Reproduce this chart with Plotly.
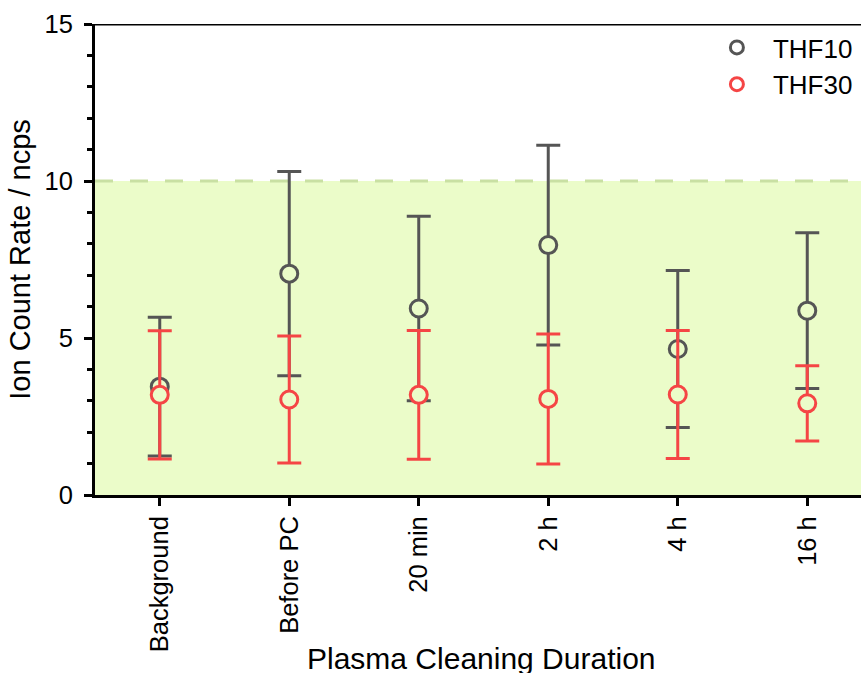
import plotly.graph_objects as go

# Measurement categories and ion count rates (mean ± error), in ncps
categories = ["Background", "Before PC", "20 min", "2 h", "4 h", "16 h"]
thf10_mean = [3.45, 7.05, 5.94, 7.96, 4.65, 5.87]
thf10_err = [2.21, 3.25, 2.94, 3.18, 2.50, 2.48]
thf30_mean = [3.19, 3.04, 3.19, 3.06, 3.20, 2.92]
thf30_err = [2.04, 2.02, 2.05, 2.07, 2.04, 1.20]
y_ticks = [0, 5, 10, 15]
limit_value = 10

GRAY = "#555555"
RED = "#f54545"
ZONE = "#ebfcc9"
FONT = "Liberation Sans, Arial, sans-serif"

fig = go.Figure()

for name, mean, err, color in [
    ("THF10", thf10_mean, thf10_err, GRAY),
    ("THF30", thf30_mean, thf30_err, RED),
]:
    fig.add_trace(go.Scatter(
        x=categories, y=mean, mode="markers", name=name, showlegend=False,
        marker=dict(symbol="circle", size=17, color=ZONE,
                    line=dict(color=color, width=3)),
        error_y=dict(type="data", array=err, visible=True,
                     color=color, thickness=3, width=12),
    ))
    # legend entry (hollow marker on white)
    fig.add_trace(go.Scatter(
        x=[None], y=[None], mode="markers", name=name,
        marker=dict(symbol="circle", size=13, color="white",
                    line=dict(color=color, width=3)),
    ))

# shaded zone below the limit, with dashed limit line
fig.add_shape(type="rect", xref="paper", x0=0, x1=1, yref="y", y0=0, y1=limit_value,
              fillcolor=ZONE, line=dict(width=0), layer="below")
fig.add_shape(type="line", xref="paper", x0=0, x1=1, yref="y",
              y0=limit_value, y1=limit_value,
              line=dict(color="#c9e0a3", width=3, dash="18px,17px"), layer="below")
# top frame line
fig.add_shape(type="line", xref="paper", x0=0, x1=1, yref="y", y0=15, y1=15,
              line=dict(color="black", width=3))

fig.add_annotation(text="Plasma Cleaning Duration", xref="paper", yref="paper",
                   x=0.505, y=-0.348, xanchor="center", yanchor="middle",
                   showarrow=False, font=dict(family=FONT, size=30, color="black"))

fig.update_layout(
    width=861, height=673,
    margin=dict(l=95, r=0, t=24, b=178, autoexpand=False),
    paper_bgcolor="white", plot_bgcolor="white",
    font=dict(family=FONT, color="black"),
    legend=dict(x=0.791, y=1.0, xanchor="left", yanchor="top",
                bgcolor="rgba(0,0,0,0)", font=dict(family=FONT, size=26),
                itemwidth=62, tracegroupgap=0),
    xaxis=dict(
        type="category", range=[-0.5, 5.415],
        showline=True, linecolor="black", linewidth=3,
        ticks="outside", ticklen=8, tickwidth=3, tickcolor="black",
        tickangle=-90, tickfont=dict(family=FONT, size=25.5),
        ticklabelstandoff=0, showgrid=False, zeroline=False,
    ),
    yaxis=dict(
        range=[0, 15], tickvals=y_ticks,
        showline=True, linecolor="black", linewidth=3,
        ticks="outside", ticklen=8, tickwidth=3, tickcolor="black",
        tickfont=dict(family=FONT, size=25.5), ticklabelstandoff=6,
        minor=dict(dtick=1, ticks="outside", ticklen=5, tickwidth=2.5,
                   tickcolor="black", showgrid=False),
        showgrid=False, zeroline=False,
        title=dict(text="Ion Count Rate / ncps",
                   font=dict(family=FONT, size=29), standoff=6),
    ),
)

fig.write_html("out.html")
